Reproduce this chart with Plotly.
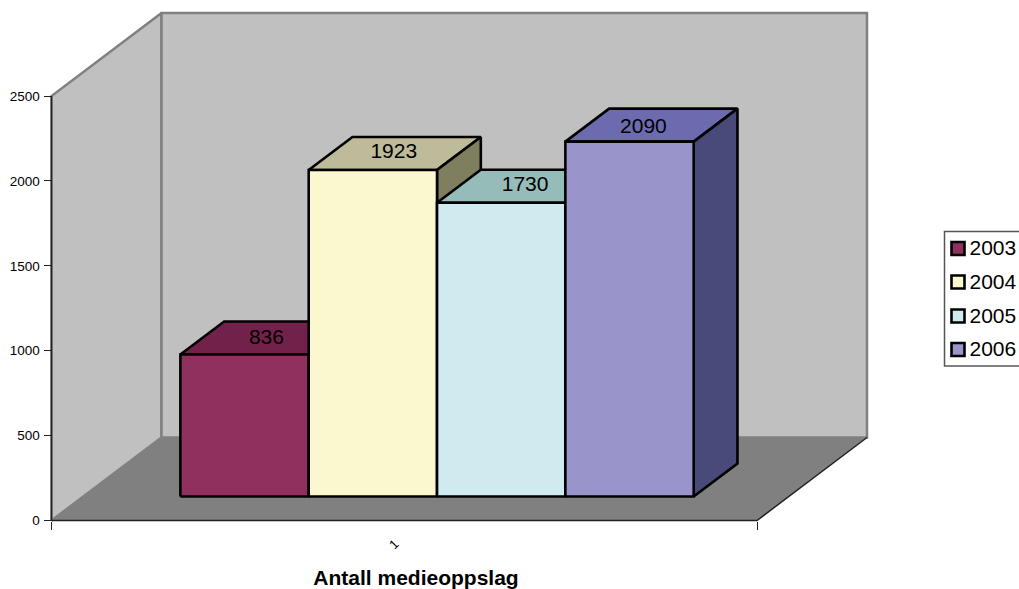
import plotly.graph_objects as go

# --- data ---
years = ["2003", "2004", "2005", "2006"]
values = [836, 1923, 1730, 2090]
front_colors = ["#8f305e", "#fbf7cf", "#d0ebf0", "#9994c9"]
top_colors = ["#72214a", "#bdbb9a", "#96bcb9", "#6c6bb0"]
side_colors = ["#481530", "#7f7f5f", "#68807f", "#4a4a7a"]
y_ticks = [0, 500, 1000, 1500, 2000, 2500]
title_text = "Antall medieoppslag"

# --- page <-> axis scales ---
W, H = 1019, 589
X0, X1 = 51.5, 757.0          # front floor edge, pixels
Y0, Y2500 = 520.5, 96.0       # value 0 and value 2500, pixels
PX_PER_U = X1 - X0
PX_PER_V = (Y0 - Y2500) / 2500
DEPTH_DX, DEPTH_DY = 110.0, 83.0
VMAX = 2500


def ux(px):
    return (px - X0) / PX_PER_U


def vy(py):
    return (Y0 - py) / PX_PER_V


def proj(u, v, d=0.0):
    """Oblique 3D projection into (x-axis, y-axis) units."""
    return u + d * DEPTH_DX / PX_PER_U, v + d * DEPTH_DY / PX_PER_V


def poly(pts, fill, line_color=None, line_width=0):
    xs, ys = zip(*[proj(*p) for p in pts])
    xs = list(xs) + [xs[0]]
    ys = list(ys) + [ys[0]]
    return go.Scatter(
        x=xs, y=ys, mode="lines", fill="toself", fillcolor=fill,
        line=dict(color=line_color or fill, width=line_width),
        hoverinfo="skip", showlegend=False,
    )


def path(pts, color, width):
    xs, ys = zip(*[proj(*p) for p in pts])
    return go.Scatter(x=xs, y=ys, mode="lines", line=dict(color=color, width=width),
                      hoverinfo="skip", showlegend=False)


fig = go.Figure()
GRAY_WALL, GRAY_EDGE, GRAY_FLOOR = "#c0c0c0", "#808080", "#808080"

# walls and floor
fig.add_trace(poly([(0, 0, 0), (0, 0, 1), (0, VMAX, 1), (0, VMAX, 0)], GRAY_WALL, GRAY_EDGE, 2.5))
fig.add_trace(poly([(0, 0, 1), (1, 0, 1), (1, VMAX, 1), (0, VMAX, 1)], GRAY_WALL, GRAY_EDGE, 2.5))
fig.add_trace(poly([(0, 0, 0), (1, 0, 0), (1, 0, 1), (0, 0, 1)], GRAY_FLOOR))

# axis lines
fig.add_trace(path([(0, 0, 0), (0, VMAX, 0)], "#222222", 1.5))
fig.add_trace(path([(0, 0, 0), (1, 0, 0), (1, 0, 1)], "#222222", 1.5))

# bars
D0, D1 = 0.289, 0.687
U0 = 0.1376
BW = 0.1819
label_nudge_px = [(0, 1), (-1, -1), (2, 0), (-8, 3)]
lab_x, lab_y = [], []
for i, v in enumerate(values):
    a, b = U0 + i * BW, U0 + (i + 1) * BW
    fig.add_trace(poly([(a, v, D0), (b, v, D0), (b, v, D1), (a, v, D1)], top_colors[i], "#000000", 2.6))
    fig.add_trace(poly([(b, 0, D0), (b, 0, D1), (b, v, D1), (b, v, D0)], side_colors[i], "#000000", 2.6))
    fig.add_trace(poly([(a, 0, D0), (b, 0, D0), (b, v, D0), (a, v, D0)], front_colors[i], "#000000", 2.6))
    x, y = proj((a + b) / 2, v, (D0 + D1) / 2)
    lab_x.append(x + label_nudge_px[i][0] / PX_PER_U)
    lab_y.append(y - label_nudge_px[i][1] / PX_PER_V)

FONT = "Liberation Sans, Arial, sans-serif"
fig.add_trace(go.Scatter(
    x=lab_x, y=lab_y, mode="text", text=[str(v) for v in values],
    textposition="middle center", textfont=dict(family=FONT, size=21, color="#000000"),
    hoverinfo="skip", showlegend=False,
))

# legend
LEFT, TOP, BOTTOM = 944.5, 231.5, 366
fig.add_trace(path([(ux(1030), vy(TOP)), (ux(LEFT), vy(TOP)), (ux(LEFT), vy(BOTTOM)), (ux(1030), vy(BOTTOM))], "#555555", 1.5))
leg_y = [248.5, 282, 316, 349.5]
fig.add_trace(go.Scatter(
    x=[ux(958)] * 4, y=[vy(p) for p in leg_y], mode="markers",
    marker=dict(symbol="square", size=13, color=front_colors, line=dict(color="#000000", width=2.6)),
    hoverinfo="skip", showlegend=False,
))
fig.add_trace(go.Scatter(
    x=[ux(969.5)] * 4, y=[vy(p + 1.5) for p in leg_y], mode="text", text=years,
    textposition="middle right", textfont=dict(family=FONT, size=21, color="#000000"),
    hoverinfo="skip", showlegend=False, cliponaxis=False,
))

fig.add_annotation(
    x=ux(393.5), y=vy(544), text="1", showarrow=False, textangle=-45,
    font=dict(family=FONT, size=13, color="#000000"),
)

fig.update_layout(
    width=W, height=H, autosize=False,
    margin=dict(l=0, r=0, t=0, b=0),
    paper_bgcolor="#ffffff", plot_bgcolor="#ffffff",
    showlegend=False,
    title=dict(text=f"<b>{title_text}</b>", x=416 / W, y=1 - 577.5 / H, xref="paper", yref="paper",
               xanchor="center", yanchor="middle",
               font=dict(family=FONT, size=21, color="#000000")),
    xaxis=dict(
        range=[ux(0), ux(W)], domain=[0, 1], showgrid=False, zeroline=False, showline=False,
        tickvals=[0, 1], ticktext=["", ""], ticks="outside", ticklen=8, tickwidth=1.2, tickcolor="#222222",
        anchor="free", position=(H - Y0) / H, fixedrange=True,
    ),
    yaxis=dict(
        range=[vy(H), vy(0)], domain=[0, 1], showgrid=False, zeroline=False, showline=False,
        tickvals=y_ticks, ticks="outside", ticklen=8, tickwidth=1.2, tickcolor="#222222",
        tickfont=dict(family=FONT, size=13.5, color="#000000"), ticklabelstandoff=1,
        anchor="free", position=X0 / W, fixedrange=True,
    ),
)
fig.write_html(
    "out.html",
    config={"displayModeBar": False},
    post_script="document.body.style.margin='0';document.documentElement.style.overflow='hidden';",
)
